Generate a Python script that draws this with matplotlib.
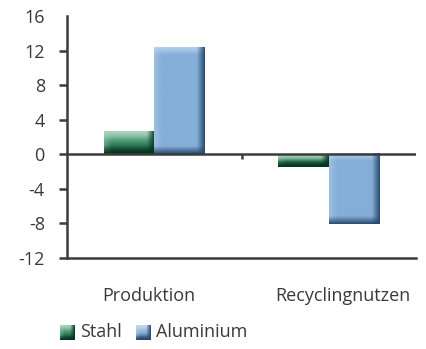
import numpy as np
import matplotlib
matplotlib.use("Agg")
import matplotlib.pyplot as plt
from matplotlib.colors import to_rgb
from matplotlib.transforms import ScaledTranslation

plt.rcParams['font.family'] = ['Open Sans', 'DejaVu Sans']

categories = ["Produktion", "Recyclingnutzen"]
series = ["Stahl", "Aluminium"]
stahl = [2.6, -1.45]
aluminium = [12.3, -8.1]
yticks = [16, 12, 8, 4, 0, -4, -8, -12]

# light, base and dark tones for the bevelled bars
tones = {
    "Stahl": ("#a9d4bd", "#3f8d69", "#03361d"),
    "Aluminium": ("#c4d9ee", "#85aed8", "#26496b"),
}

axis_col = "#3c3c3c"
text_col = "#3a3a3a"
fs = 13

fig = plt.figure(figsize=(4.26, 3.49), dpi=100)
ax = fig.add_axes([67 / 426, 1 - 258 / 349, 349 / 426, 242 / 349])
ax.set_xlim(-0.5, 1.5)
ax.set_ylim(-12, 16)


def bevel(w_px, h_px, light, base, dark, b=8.0, vertical=False):
    nx, ny = max(int(w_px), 2), max(int(h_px), 2)
    xs = (np.arange(nx) + 0.5)
    ys = (np.arange(ny) + 0.5)
    X, Y = np.meshgrid(xs, ys)
    light, base, dark = map(np.array, (to_rgb(light), to_rgb(base), to_rgb(dark)))
    img = np.ones((ny, nx, 3)) * base
    if vertical:
        t = Y / ny
        up = np.clip(1 - t * 2, 0, 1)[..., None]
        dn = np.clip(t * 2 - 1, 0, 1)[..., None]
        img = img * (1 - up) + light * up
        img = img * (1 - dn) + dark * dn
    top = np.clip(1 - Y / b, 0, 1)[..., None] * 0.8
    left = np.clip(1 - X / b, 0, 1)[..., None] * 0.4
    right = np.clip(1 - (nx - X) / b, 0, 1)[..., None]
    bottom = np.clip(1 - (ny - Y) / b, 0, 1)[..., None]
    img = img * (1 - top) + light * top
    img = img * (1 - left) + light * left
    img = img * (1 - right) + dark * right
    img = img * (1 - bottom) + dark * bottom
    return img


bbox = ax.get_window_extent()
px_x = bbox.width / 2.0
px_y = bbox.height / 28.0

width = 0.29
for i, name in enumerate(series):
    vals = stahl if name == "Stahl" else aluminium
    light, base, dark = tones[name]
    offset = -width / 2 if i == 0 else width / 2
    for j, v in enumerate(vals):
        x0 = j + offset - width / 2
        x1 = x0 + width
        y0, y1 = min(0, v), max(0, v)
        img = bevel(width * px_x, (y1 - y0) * px_y, light, base, dark,
                    vertical=(name == "Stahl"))
        ax.imshow(img, extent=(x0, x1, y0, y1), aspect='auto', zorder=2,
                  interpolation='bilinear')

ax.set_xlim(-0.5, 1.5)
ax.set_ylim(-12, 16)

ax.axhline(0, color=axis_col, lw=1.8, zorder=3)
ax.plot([0.5, 0.5], [0, -0.6], color=axis_col, lw=1.8, zorder=3,
        solid_capstyle='butt')

for s in ["top", "right"]:
    ax.spines[s].set_visible(False)
for s in ["left", "bottom"]:
    ax.spines[s].set_color(axis_col)
    ax.spines[s].set_linewidth(1.8)
    ax.spines[s].set_zorder(4)

ax.set_yticks(yticks)
ax.set_yticklabels([str(t) for t in yticks])
ax.tick_params(axis='y', length=6, width=1.8, color=axis_col, pad=10,
               labelsize=fs, labelcolor=text_col)
for t in ax.yaxis.get_major_ticks():
    if t.get_loc() == 16:
        t.tick1line.set_visible(False)

ax.set_xticks(range(len(categories)))
ax.set_xticklabels(categories)
ax.tick_params(axis='x', length=0, pad=21, labelsize=fs,
               labelcolor=text_col)
# nudge the category labels sideways (in pixels)
for lab, dx in zip(ax.get_xticklabels(), [-5, 14]):
    lab.set_transform(lab.get_transform() +
                      ScaledTranslation(dx / 100, 0, fig.dpi_scale_trans))

# legend swatches and labels
swatch_x = [60, 136]
for i, name in enumerate(series):
    light, base, dark = tones[name]
    sw = fig.add_axes([swatch_x[i] / 426, 1 - 340 / 349, 15 / 426, 15 / 349])
    sw.imshow(bevel(15, 15, light, base, dark, b=5, vertical=True),
              aspect='auto', interpolation='bilinear')
    sw.axis('off')
    fig.text((swatch_x[i] + 20) / 426, 1 - 332 / 349, name, fontsize=fs,
             color=text_col, va='center', ha='left')

fig.savefig("out.png", dpi=100)
